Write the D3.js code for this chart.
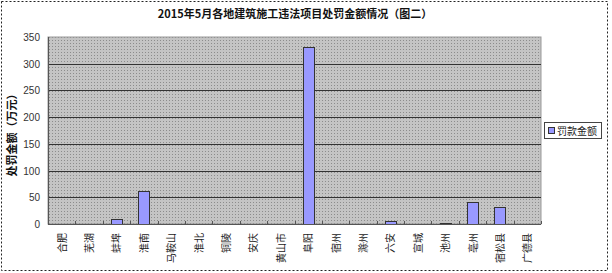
<!DOCTYPE html>
<html>
<head>
<meta charset="utf-8">
<script src="https://cdn.jsdelivr.net/npm/d3@7"></script>
<style>
  body { margin: 0; background: #fff; }
  svg { display: block; }
</style>
</head>
<body>
<div id="chart"></div>
<script>
// Chart data
const title = "2015年5月各地建筑施工违法项目处罚金额情况（图二）";
const yTitle = "处罚金额（万元）";
const seriesName = "罚款金额";
const cities = ["合肥", "芜湖", "蚌埠", "淮南", "马鞍山", "淮北", "铜陵", "安庆", "黄山市",
    "阜阳", "宿州", "滁州", "六安", "宣城", "池州", "亳州", "宿松县", "广德县"];
const fines = [0, 0, 9, 62, 0, 0, 0, 0, 0, 332, 0, 0, 5, 0, 2, 42, 31, 0];
const yTicks = [0, 50, 100, 150, 200, 250, 300, 350];

const width = 612;
const height = 273;
const plot = { left: 48, right: 541, top: 37, bottom: 224 };

const svg = d3.select("#chart")
    .append("svg")
    .attr("width", width)
    .attr("height", height);

// Dotted gray fill used by the plot area
const defs = svg.append("defs");
const pat = defs.append("pattern")
    .attr("id", "dots")
    .attr("width", 3)
    .attr("height", 3)
    .attr("patternUnits", "userSpaceOnUse");
pat.append("rect").attr("width", 3).attr("height", 3).attr("fill", "#c4c4c4");
pat.append("rect").attr("x", 1).attr("y", 1).attr("width", 1).attr("height", 1).attr("fill", "#8c8c8c");

// Outer dashed border
svg.append("rect")
    .attr("x", 1.5).attr("y", 1.5)
    .attr("width", 606).attr("height", 269)
    .attr("fill", "white")
    .attr("stroke", "#222")
    .attr("stroke-dasharray", "2,2");

// Title
svg.append("text")
    .attr("x", 295).attr("y", 18)
    .attr("text-anchor", "middle")
    .attr("font-family", "'Noto Sans CJK SC', sans-serif")
    .attr("font-size", 11)
    .attr("font-weight", "bold")
    .attr("fill", "#111")
    .text(title);

// Scales
const x = d3.scaleBand()
    .domain(cities)
    .range([plot.left, plot.right])
    .paddingInner(0.59)
    .paddingOuter(0.295);
const xStep = x.step();

const y = d3.scaleLinear()
    .domain([0, 350])
    .range([plot.bottom, plot.top]);

// Plot background
svg.append("rect")
    .attr("x", plot.left).attr("y", plot.top)
    .attr("width", plot.right - plot.left)
    .attr("height", plot.bottom - plot.top)
    .attr("fill", "url(#dots)")
    .attr("stroke", "#999");

// Gridlines
svg.append("g")
    .selectAll("line")
    .data(yTicks.filter(d => d > 0 && d < 350))
    .enter().append("line")
    .attr("x1", plot.left).attr("x2", plot.right)
    .attr("y1", d => Math.round(y(d)) + 0.5)
    .attr("y2", d => Math.round(y(d)) + 0.5)
    .attr("stroke", "#333");

// Bars
svg.append("g")
    .selectAll("rect")
    .data(fines)
    .enter().append("rect")
    .attr("x", (d, i) => Math.round(x(cities[i])) + 0.5)
    .attr("y", d => Math.round(y(d)) + 0.5)
    .attr("width", Math.round(x.bandwidth()))
    .attr("height", d => Math.max(0, Math.round(y(0)) - Math.round(y(d))))
    .attr("fill", "#9999ff")
    .attr("stroke", "#333")
    .attr("stroke-width", d => d > 0 ? 1 : 0);

// Axes lines
svg.append("line")
    .attr("x1", plot.left + 0.5).attr("x2", plot.left + 0.5)
    .attr("y1", plot.top).attr("y2", plot.bottom)
    .attr("stroke", "#555");
svg.append("line")
    .attr("x1", plot.left).attr("x2", plot.right)
    .attr("y1", plot.bottom + 0.5).attr("y2", plot.bottom + 0.5)
    .attr("stroke", "#555");

// Category tick marks between bands
svg.append("g")
    .selectAll("line")
    .data(d3.range(cities.length + 1))
    .enter().append("line")
    .attr("x1", i => Math.round(plot.left + i * xStep) + 0.5)
    .attr("x2", i => Math.round(plot.left + i * xStep) + 0.5)
    .attr("y1", plot.bottom - 3)
    .attr("y2", plot.bottom)
    .attr("stroke", "#555");

// Y tick labels
svg.append("g")
    .selectAll("text")
    .data(yTicks)
    .enter().append("text")
    .attr("x", 40)
    .attr("y", d => y(d) + 4)
    .attr("text-anchor", "end")
    .attr("font-family", "'Liberation Sans', Arial, sans-serif")
    .attr("font-size", 10)
    .attr("fill", "#333")
    .text(d => d);

// X labels, rotated
svg.append("g")
    .selectAll("text")
    .data(cities)
    .enter().append("text")
    .attr("transform", d => `translate(${x(d) + x.bandwidth() / 2 + 4},${plot.bottom + 9}) rotate(-90)`)
    .attr("text-anchor", "end")
    .attr("font-family", "'Noto Sans CJK SC', sans-serif")
    .attr("font-size", 10)
    .attr("fill", "#222")
    .text(d => d);

// Y axis title
svg.append("text")
    .attr("transform", `translate(16,${(plot.top + plot.bottom) / 2 + 2}) rotate(-90)`)
    .attr("text-anchor", "middle")
    .attr("font-family", "'Noto Sans CJK SC', sans-serif")
    .attr("font-size", 11)
    .attr("font-weight", "bold")
    .attr("fill", "#111")
    .text(yTitle);

// Legend
const legend = svg.append("g");
legend.append("rect")
    .attr("x", 544.5).attr("y", 122.5)
    .attr("width", 57).attr("height", 16)
    .attr("fill", "white")
    .attr("stroke", "#444");
legend.append("rect")
    .attr("x", 548.5).attr("y", 127.5)
    .attr("width", 6).attr("height", 6)
    .attr("fill", "#9999ff")
    .attr("stroke", "#333");
legend.append("text")
    .attr("x", 557).attr("y", 134.5)
    .attr("font-family", "'Noto Sans CJK SC', sans-serif")
    .attr("font-size", 10)
    .attr("fill", "#222")
    .text(seriesName);
</script>
</body>
</html>
